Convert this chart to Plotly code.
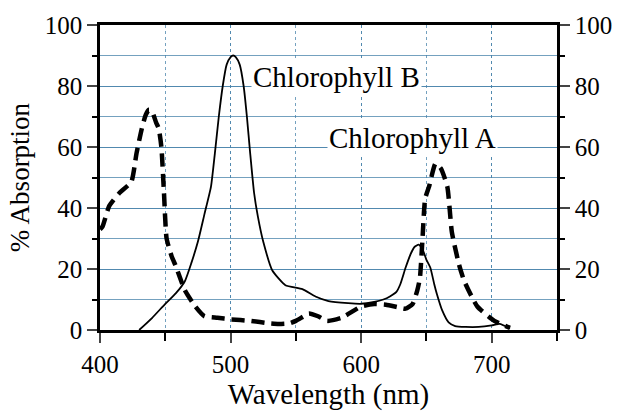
import plotly.graph_objects as go

# Chlorophyll A (dashed)
a_wavelength = [400, 402, 407, 415, 424, 428, 432, 435, 437.5, 440, 443, 445, 447, 449, 451, 455, 458, 465, 473, 480,
                490, 500, 515, 530, 537, 545, 550, 556, 560, 567, 574, 585, 600, 610, 619, 628, 634, 639.5, 643, 645,
                647, 649, 652, 657, 661, 666, 669.5, 675, 679, 689, 702, 714]
a_absorption = [33, 34, 40.6, 45, 48.6, 58, 66, 70.5, 72.2, 71.5, 68, 66, 60, 45, 30, 24, 21, 13, 7.7, 4.5,
                4, 3.5, 3, 2.2, 2, 2.2, 3, 4.5, 5.4, 4.5, 3, 4, 7.7, 8.5, 8.3, 7.5, 7, 8.6, 13, 17,
                30, 43, 47, 54.6, 53, 47, 32, 21.4, 16, 7.7, 3, 0.7]

# Chlorophyll B (solid)
b_wavelength = [430, 440, 450, 458, 465, 470, 475, 480, 485, 488, 491, 494, 497, 500, 502, 504, 507, 510, 512.5, 515,
                518, 521, 525, 532, 542, 555, 565, 575, 590, 600, 610, 617, 622, 627, 630, 634, 638, 641, 644, 647,
                650, 653, 656, 658, 662, 667, 672, 680, 690, 700, 706, 714]
b_absorption = [0, 4, 8.6, 12, 16, 22, 29, 38, 47, 58, 70, 80, 87, 89.5, 90, 89.5, 87, 80, 70, 58,
                45, 37, 29, 19.5, 14.7, 13.4, 11, 9.5, 8.8, 8.6, 9.2, 10, 11, 12.5, 15, 20.4, 25, 27.3, 28, 26.5,
                23, 20.4, 15, 11.8, 6.5, 2.5, 1.3, 1, 1, 1.5, 2, 0.5]

x_ticks = [400, 500, 600, 700]
y_ticks = [0, 20, 40, 60, 80, 100]

labels = [("Chlorophyll B", 581, 83), ("Chlorophyll A", 639, 63)]

FONT = "Liberation Serif"
GRID = "rgba(70,130,170,0.75)"

fig = go.Figure()
fig.add_trace(go.Scatter(x=a_wavelength, y=a_absorption, mode="lines",
                         line=dict(color="black", width=4.5, dash="13px,7px", shape="spline", smoothing=0.5),
                         name="Chlorophyll A", showlegend=False))
fig.add_trace(go.Scatter(x=b_wavelength, y=b_absorption, mode="lines",
                         line=dict(color="black", width=1.8, shape="spline", smoothing=0.5),
                         name="Chlorophyll B", showlegend=False))
# invisible trace to anchor the right axis
fig.add_trace(go.Scatter(x=[400], y=[0], yaxis="y2", mode="markers",
                         marker=dict(opacity=0), showlegend=False, hoverinfo="skip"))

for text, x, y in labels:
    fig.add_annotation(x=x, y=y, text=text, showarrow=False,
                       font=dict(family=FONT, size=29, color="black"),
                       bgcolor="white", xanchor="center", yanchor="middle")

fig.update_layout(
    width=624, height=414,
    margin=dict(l=100, r=54, t=21, b=80),
    paper_bgcolor="white", plot_bgcolor="white",
    font=dict(family=FONT, size=24, color="black"),
    xaxis=dict(range=[400, 750], tickvals=x_ticks, ticks="outside", ticklen=10, tickwidth=2,
               showline=True, linewidth=2.5, linecolor="black", mirror=True,
               showgrid=True, gridcolor=GRID, griddash="dot", gridwidth=1,
               minor=dict(dtick=50, ticks="outside", ticklen=8, tickwidth=2, tickcolor="black",
                          showgrid=True, gridcolor=GRID, griddash="dot", gridwidth=1),
               title=dict(text="Wavelength (nm)", font=dict(family=FONT, size=29), standoff=4),
               tickfont=dict(family=FONT, size=25), zeroline=False),
    yaxis=dict(range=[0, 100], tickvals=y_ticks, ticks="outside", ticklen=10, tickwidth=2,
               showline=True, linewidth=2.5, linecolor="black",
               showgrid=True, gridcolor=GRID, gridwidth=1,
               minor=dict(dtick=10, ticks="outside", ticklen=5, tickwidth=2, tickcolor="black",
                          showgrid=True, gridcolor=GRID, gridwidth=1),
               title=dict(text="% Absorption", font=dict(family=FONT, size=27), standoff=8),
               tickfont=dict(family=FONT, size=25), zeroline=False),
    yaxis2=dict(range=[0, 100], tickvals=y_ticks, overlaying="y", side="right", anchor="x",
                ticks="outside", ticklen=10, tickwidth=2,
                showline=True, linewidth=2.5, linecolor="black", showgrid=False,
                minor=dict(dtick=10, ticks="outside", ticklen=5, tickwidth=2, tickcolor="black"),
                tickfont=dict(family=FONT, size=25), zeroline=False),
)

fig.write_html("out.html")
